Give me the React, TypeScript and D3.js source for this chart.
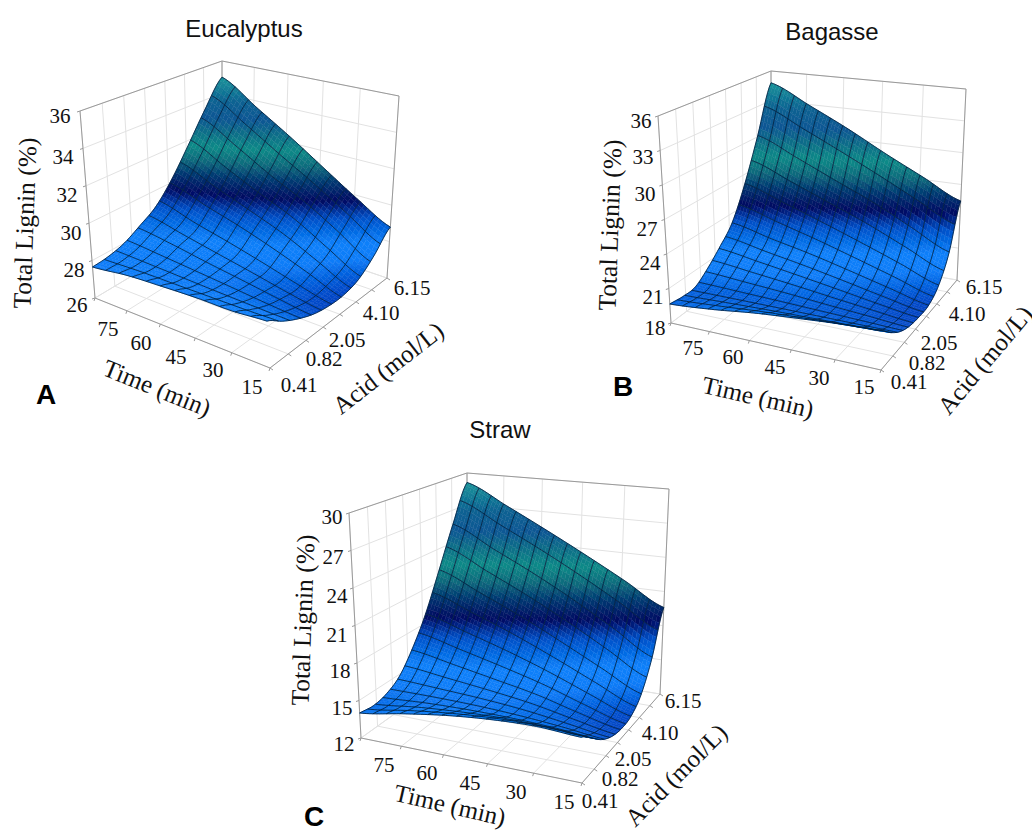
import * as d3 from "d3";

// values: rows run along acid (low to high), columns along time (90 to 15 min)
const timeTicks = ["75", "60", "45", "30", "15"];
const acidTicks = ["0.41", "0.82", "2.05", "4.10", "6.15"];

const eucalyptusTicks = ["26", "28", "30", "32", "34", "36"];
const bagasseTicks = ["18", "21", "24", "27", "30", "33", "36"];
const strawTicks = ["12", "15", "18", "21", "24", "27", "30"];

const eucalyptusLignin = [
  [27.66, 27.9, 28.0, 28.07, 28.07, 28.2],
  [27.75, 27.75, 27.72, 27.7, 27.7, 27.7],
  [28.0, 27.85, 27.7, 27.55, 27.4, 27.3],
  [28.5, 28.2, 27.85, 27.55, 27.25, 27.0],
  [29.1, 28.55, 28.1, 27.65, 27.2, 26.85],
  [30.2, 29.5, 28.9, 28.25, 27.55, 26.85],
  [31.7, 30.7, 29.8, 29.0, 28.0, 27.1],
  [33.4, 32.2, 31.0, 30.0, 28.9, 27.8],
  [35.0, 33.6, 32.3, 31.0, 29.8, 28.8],
];
const bagasseLignin = [
  [19.65, 19.96, 20.4, 20.7, 20.95, 21.06],
  [19.5, 19.65, 19.8, 19.9, 20.0, 20.1],
  [19.55, 19.5, 19.45, 19.4, 19.35, 19.3],
  [20.4, 20.1, 19.8, 19.45, 19.15, 18.85],
  [21.6, 21.0, 20.4, 19.8, 19.2, 18.7],
  [23.1, 22.2, 21.4, 20.5, 19.6, 18.75],
  [26.0, 24.7, 23.4, 22.1, 20.8, 19.5],
  [30.0, 28.3, 26.6, 25.0, 23.2, 21.5],
  [34.8, 32.9, 31.0, 29.0, 27.2, 25.45],
];
const strawLignin = [
  [14.0, 14.6, 15.1, 15.4, 15.5, 15.3],
  [13.85, 14.3, 14.6, 14.75, 14.7, 14.5],
  [14.1, 14.2, 14.2, 14.1, 13.9, 13.6],
  [14.85, 14.6, 14.35, 14.0, 13.5, 13.0],
  [16.5, 15.8, 15.1, 14.4, 13.5, 12.75],
  [18.8, 17.7, 16.6, 15.4, 14.1, 12.9],
  [22.0, 20.4, 18.8, 17.1, 15.4, 13.8],
  [25.6, 23.7, 21.9, 20.0, 18.0, 16.0],
  [29.1, 27.2, 25.3, 23.4, 21.5, 19.6],
];

type Pt = [number, number];

// colour ramp of the surface, on height 0..1
const rampStops = [0, 0.1, 0.17, 0.28, 0.36, 0.45, 0.52, 0.6, 0.68, 0.76, 0.86, 1];
const rampColors = ["#0044c4", "#0a7cf8", "#0a80fa", "#0050c8", "#000c62", "#053a72", "#0a6a7c", "#0f8a88", "#0c6f88", "#0a5794", "#0a6292", "#1a949a"];

const panels = [
  {
    name: "Eucalyptus", letter: "A", table: eucalyptusLignin, zTicks: eucalyptusTicks, mesh: 12,
    floor: [[95, 298], [270, 368], [222, 222], [387, 278]] as Pt[],
    top: [[80, 111], [256, 155], [222, 61], [399, 96]] as Pt[],
    titleAt: [244, 28], letterAt: [46, 394],
    zAt: [[77, 305], [74, 270], [71, 233], [67, 195], [63, 157], [60, 116]],
    timeAt: [[108, 329], [141, 343], [176, 357], [213, 370], [252, 387]],
    acidAt: [[299, 385], [324, 359], [347, 340], [381, 313], [412, 288]],
    zTitle: [25, 223, -88], timeTitle: [157, 388, 22], acidTitle: [388, 368, -38],
  },
  {
    name: "Bagasse", letter: "B", table: bagasseLignin, zTicks: bagasseTicks, mesh: 15,
    floor: [[671, 323], [881, 370], [771, 248], [957, 280]] as Pt[],
    top: [[658, 116], [877, 141], [771, 71], [966, 89]] as Pt[],
    titleAt: [832, 31], letterAt: [623, 386],
    zAt: [[655, 328], [653, 297], [650, 263], [647, 229], [645, 194], [643, 157], [641, 121]],
    timeAt: [[693, 348], [733, 357], [775, 367], [819, 378], [864, 387]],
    acidAt: [[909, 382], [927, 363], [939, 343], [967, 314], [984, 287]],
    zTitle: [610, 225, -88], timeTitle: [758, 397, 13], acidTitle: [985, 360, -50],
  },
  {
    name: "Straw", letter: "C", table: strawLignin, zTicks: strawTicks, mesh: 15,
    floor: [[361, 738], [582, 783], [467, 662], [660, 694]] as Pt[],
    top: [[349, 513], [578, 534], [467, 473], [669, 489]] as Pt[],
    titleAt: [500, 429], letterAt: [314, 816],
    zAt: [[344, 744], [342, 708], [340, 671], [337, 635], [337, 596], [333, 557], [332, 517]],
    timeAt: [[384, 765], [427, 773], [470, 783], [516, 792], [564, 802]],
    acidAt: [[600, 801], [620, 779], [633, 759], [660, 733], [683, 701]],
    zTitle: [303, 620, -88], timeTitle: [450, 805, 13], acidTitle: [676, 775, -45],
  },
];

const SUB = 4;
const ACID_STEPS = 7;
const TIME_STEPS = 5;

// foreshortening along each floor edge
const warp = (k: number) => (t: number) => t / (t + k * (1 - t));
const warpTime = warp(1.12);
const warpAcid = warp(0.9);

const lerp = (a: number, b: number, t: number) => a + (b - a) * t;

// Catmull-Rom through the read values, so the mesh is smooth between them
const spline = (arr: number[], t: number) => {
  const n = arr.length - 1;
  const i = Math.min(Math.floor(t * n), n - 1);
  const s = t * n - i;
  const p0 = arr[Math.max(i - 1, 0)];
  const p1 = arr[i];
  const p2 = arr[i + 1];
  const p3 = arr[Math.min(i + 2, n)];
  return 0.5 * (2 * p1 + (p2 - p0) * s + (2 * p0 - 5 * p1 + 4 * p2 - p3) * s * s + (3 * p1 - p0 - 3 * p2 + p3) * s * s * s);
};

const linePath = d3.line<Pt>();

function Surface3D({ p }: { p: (typeof panels)[number] }) {
  const ticks = p.zTicks.map(Number);
  const zScale = d3.scaleLinear().domain([ticks[0], ticks[ticks.length - 1]]).range([0, 1]);
  const flat = p.table.flat();
  const shade = d3.scaleLinear().domain([d3.min(flat)!, d3.max(flat)!]).range([0, 1]);
  const color = d3.scaleLinear<string>().domain(rampStops).range(rampColors).interpolate(d3.interpolateRgb);

  // a, b: place along the time and acid edges 0..1, w: height 0..1
  const place = (a: number, b: number, w: number): Pt => {
    const [f0, f1, f2, f3] = p.floor;
    const [t0, t1, t2, t3] = p.top;
    const at = (c0: Pt, c1: Pt, c2: Pt, c3: Pt, i: 0 | 1) => lerp(lerp(c0[i], c1[i], a), lerp(c2[i], c3[i], a), b);
    return [
      lerp(at(f0, f1, f2, f3, 0), at(t0, t1, t2, t3, 0), w),
      lerp(at(f0, f1, f2, f3, 1), at(t0, t1, t2, t3, 1), w),
    ];
  };
  const project = (u: number, v: number, w: number) => place(warpTime(u), warpAcid(v), w);
  const zAt = (u: number, v: number) => {
    const rowVals = p.table.map((row) => spline(row, warpTime(u)));
    return spline(rowVals, warpAcid(v));
  };
  const node = (u: number, v: number) => project(u, v, zScale(zAt(u, v)));

  const quads: { d: string; fill: string }[] = [];
  const N = p.mesh * SUB;
  for (let j = N - 1; j >= 0; j--) {
    for (let i = 0; i < N; i++) {
      const u0 = i / N, u1 = (i + 1) / N, v0 = j / N, v1 = (j + 1) / N;
      const fill = color(shade(zAt((u0 + u1) / 2, (v0 + v1) / 2)));
      const d = linePath([node(u0, v0), node(u1, v0), node(u1, v1), node(u0, v1)])! + "Z";
      quads.push({ d, fill });
    }
  }

  const meshLines: string[] = [];
  for (let k = 0; k <= p.mesh; k++) {
    const along = d3.range(0, N + 1).map((s) => s / N);
    meshLines.push(linePath(along.map((s) => node(k / p.mesh, s)))!);
    meshLines.push(linePath(along.map((s) => node(s, k / p.mesh)))!);
  }

  const gridLines: string[] = [];
  d3.range(0, TIME_STEPS + 1).forEach((i) => {
    const u = i / TIME_STEPS;
    gridLines.push(linePath([project(u, 0, 0), project(u, 1, 0)])!);
    gridLines.push(linePath([project(u, 1, 0), project(u, 1, 1)])!);
  });
  d3.range(0, ACID_STEPS + 1).forEach((i) => {
    const v = i / ACID_STEPS;
    gridLines.push(linePath([project(0, v, 0), project(1, v, 0)])!);
    gridLines.push(linePath([project(0, v, 0), project(0, v, 1)])!);
  });
  ticks.forEach((z) => {
    const w = zScale(z);
    gridLines.push(linePath([project(0, 0, w), project(0, 1, w)])!);
    gridLines.push(linePath([project(0, 1, w), project(1, 1, w)])!);
  });

  const frame = [
    linePath([project(0, 0, 0), project(0, 0, 1), project(0, 1, 1), project(1, 1, 1), project(1, 1, 0)])!,
    linePath([project(0, 0, 0), project(1, 0, 0), project(1, 1, 0)])!,
    linePath([project(0, 1, 0), project(0, 1, 1)])!,
  ];

  const tickMarks: string[] = [];
  ticks.forEach((z) => {
    const a = project(0, 0, zScale(z));
    tickMarks.push(linePath([a, [a[0] - 3, a[1] + 1]])!);
  });
  d3.range(0, TIME_STEPS + 1).forEach((i) => {
    const a = project(i / TIME_STEPS, 0, 0);
    tickMarks.push(linePath([a, [a[0] - 1, a[1] + 3]])!);
  });
  d3.range(0, ACID_STEPS + 1).forEach((i) => {
    const a = project(1, i / ACID_STEPS, 0);
    tickMarks.push(linePath([a, [a[0] + 3, a[1] + 2]])!);
  });

  const serif = "'Liberation Serif', serif";
  const sans = "'Liberation Sans', sans-serif";
  const label = (txt: string, at: number[], key: string) => (
    <text key={key} x={at[0]} y={at[1]} textAnchor="middle" dominantBaseline="central" fontFamily={serif} fontSize={21} fill="#111">
      {txt}
    </text>
  );
  const rotated = (txt: string, at: number[], size: number) => (
    <text
      transform={`translate(${at[0]},${at[1]}) rotate(${at[2]})`}
      textAnchor="middle"
      dominantBaseline="central"
      fontFamily={serif}
      fontSize={size}
      fill="#111"
    >
      {txt}
    </text>
  );

  return (
    <g>
      {gridLines.map((d, i) => (
        <path key={i} d={d} fill="none" stroke="#e2e2e2" strokeWidth={1} />
      ))}
      {frame.map((d, i) => (
        <path key={i} d={d} fill="none" stroke="#9a9a9a" strokeWidth={1} />
      ))}
      {tickMarks.map((d, i) => (
        <path key={i} d={d} fill="none" stroke="#9a9a9a" strokeWidth={1} />
      ))}
      <g filter="url(#soften)">
        {quads.map((q, i) => (
          <path key={i} d={q.d} fill={q.fill} stroke={q.fill} strokeWidth={0.4} />
        ))}
        <g fill="none" stroke="#06203f" strokeWidth={1} strokeOpacity={0.85}>
          {meshLines.map((d, i) => (
            <path key={i} d={d} />
          ))}
        </g>
      </g>
      {p.zTicks.map((t, i) => label(t, p.zAt[i], `z${i}`))}
      {timeTicks.map((t, i) => label(t, p.timeAt[i], `t${i}`))}
      {acidTicks.map((t, i) => label(t, p.acidAt[i], `a${i}`))}
      {rotated("Total Lignin (%)", p.zTitle, 25.5)}
      {rotated("Time (min)", p.timeTitle, 25)}
      {rotated("Acid (mol/L)", p.acidTitle, 25)}
      <text x={p.titleAt[0]} y={p.titleAt[1]} textAnchor="middle" dominantBaseline="central" fontFamily={sans} fontSize={24} fill="#111">
        {p.name}
      </text>
      <text x={p.letterAt[0]} y={p.letterAt[1]} textAnchor="middle" dominantBaseline="central" fontFamily={sans} fontWeight="bold" fontSize={28} fill="#000">
        {p.letter}
      </text>
    </g>
  );
}

export default function App() {
  return (
    <svg width={1032} height={831} style={{ position: "absolute", left: 0, top: 0, background: "#fff" }}>
      <defs>
        <filter id="soften" x="-5%" y="-5%" width="110%" height="110%">
          <feGaussianBlur stdDeviation={0.4} />
        </filter>
      </defs>
      {panels.map((p) => (
        <Surface3D key={p.name} p={p} />
      ))}
    </svg>
  );
}
